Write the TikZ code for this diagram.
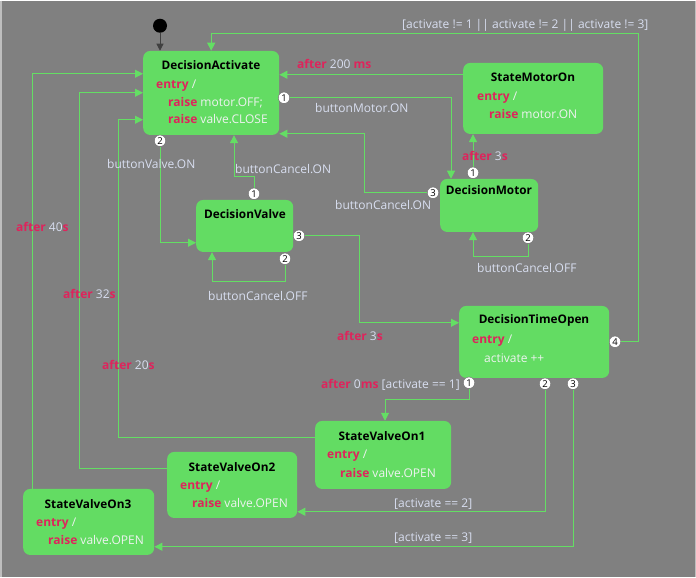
\documentclass[tikz,border=0pt]{standalone}
\usepackage{fontspec}
\setmainfont{Open Sans}
\usetikzlibrary{arrows.meta}
\definecolor{bgc}{RGB}{128,128,128}
\definecolor{stfill}{RGB}{99,220,99}
\definecolor{wire}{RGB}{100,222,100}
\definecolor{kwc}{RGB}{222,36,92}
\definecolor{lbl}{RGB}{216,222,240}
\definecolor{intxt}{RGB}{238,242,240}
\definecolor{initc}{RGB}{64,64,64}
\definecolor{edgec}{RGB}{190,190,190}
\newcommand\kw[1]{{\bfseries\color{kwc}#1}}
\pgfdeclarelayer{canvas}
\pgfdeclarelayer{wires}
\pgfsetlayers{canvas,wires,main}
\begin{document}
\begin{tikzpicture}[x=1pt,y=-1pt,
  st/.style={fill=stfill, rounded corners=7pt, anchor=north west, inner sep=0pt},
  ttl/.style={font=\fontsize{11.8}{13}\selectfont\bfseries, text=black, inner sep=0pt},
  body/.style={font=\fontsize{12}{14}\selectfont, text=intxt, anchor=west, inner sep=0pt},
  lab/.style={font=\fontsize{12}{14}\selectfont, text=lbl, anchor=west, inner sep=0pt},
  mk/.style={circle, fill=white, draw=black!60, line width=0.4pt, inner sep=0pt,
    minimum size=11.5pt, font=\fontsize{9.5}{9.5}\selectfont, text=black},
  tr/.style={draw=wire, line width=1pt, -{Triangle[length=8pt,width=8pt]}},
]
% canvas
\begin{pgfonlayer}{canvas}
\fill[bgc] (0,0) rectangle (696,576);
\draw[edgec, line width=1.5pt] (0.75,0) -- (0.75,576);
\draw[edgec, line width=1.5pt] (695.25,0) -- (695.25,576);
\end{pgfonlayer}
\useasboundingbox (0,0) rectangle (696,576);

% states
\node[st, minimum width=136pt, minimum height=84pt] (da) at (143,50) {};
\node[ttl] (da-t) at (211,64) {DecisionActivate};
\node[body] (da-b1) at (156,85) {\kw{entry} /};
\node[body] (da-b2) at (168,102) {\kw{raise} motor.OFF;};
\node[body] (da-b3) at (168,118) {\kw{raise} valve.CLOSE};

\node[st, minimum width=140pt, minimum height=71pt] (smo) at (463,62) {};
\node[ttl] (smo-t) at (533,77) {StateMotorOn};
\node[body] (smo-b1) at (477,97) {\kw{entry} /};
\node[body] (smo-b2) at (489,113) {\kw{raise} motor.ON};

\node[st, minimum width=98pt, minimum height=53pt] (dm) at (440,178) {};
\node[ttl] (dm-t) at (489,189) {DecisionMotor};

\node[st, minimum width=97pt, minimum height=52pt] (dv) at (196,199) {};
\node[ttl] (dv-t) at (245,213) {DecisionValve};

\node[st, minimum width=150pt, minimum height=72pt] (dto) at (459,305) {};
\node[ttl] (dto-t) at (534,320) {DecisionTimeOpen};
\node[body] (dto-b1) at (472,340) {\kw{entry} /};
\node[body] (dto-b2) at (484,357) {activate ++};

\node[st, minimum width=136pt, minimum height=68pt] (sv1) at (315,420) {};
\node[ttl] (sv1-t) at (382,435) {StateValveOn1};
\node[body] (sv1-b1) at (327,455) {\kw{entry} /};
\node[body] (sv1-b2) at (340,472) {\kw{raise} valve.OPEN};

\node[st, minimum width=130pt, minimum height=66pt] (sv2) at (167,451) {};
\node[ttl] (sv2-t) at (232,466) {StateValveOn2};
\node[body] (sv2-b1) at (180,486) {\kw{entry} /};
\node[body] (sv2-b2) at (192,502) {\kw{raise} valve.OPEN};

\node[st, minimum width=131pt, minimum height=66pt] (sv3) at (23,488) {};
\node[ttl] (sv3-t) at (88,503) {StateValveOn3};
\node[body] (sv3-b1) at (36,523) {\kw{entry} /};
\node[body] (sv3-b2) at (48,539) {\kw{raise} valve.OPEN};

% initial pseudo state
\node[circle, fill=black, minimum size=14pt, inner sep=0pt] (init) at (160,25) {};

% transition priority markers
\node[mk] (dam1) at (284,97) {1};
\node[mk] (dam2) at (160,140) {2};
\node[mk] (dmm1) at (473,172) {1};
\node[mk] (dmm2) at (528,237) {2};
\node[mk] (dmm3) at (433,192) {3};
\node[mk] (dvm1) at (254,193) {1};
\node[mk] (dvm2) at (285,258) {2};
\node[mk] (dvm3) at (299,235) {3};
\node[mk] (dtom1) at (469,382) {1};
\node[mk] (dtom2) at (545,383) {2};
\node[mk] (dtom3) at (573,383) {3};
\node[mk] (dtom4) at (615,341) {4};

% transitions
\begin{pgfonlayer}{wires}
\draw[initc, line width=1pt, -{Triangle[length=7pt,width=7pt]}] (init) -- (init |- da.north);
\draw[tr] (dtom4.east) -| (638,33) -| (da.north);
\draw[tr] (smo.west |- 0,74) -- (da.east |- 0,74);
\draw[tr] (dam1.east) -| (dm.north -| 451,0);
\draw[tr] (dmm3.west) -| (364,133) -- (da.east |- 0,133);
\draw[tr] (dmm1.north) -- (smo.south -| dmm1);
\draw[tr] (dmm2.south) |- (473,256) -- (dm.south -| 473,0);
\draw[tr] (dam2.south) |- (dv.west |- 0,242);
\draw[tr] (dvm1.north) |- (234,176) -- (da.south -| 234,0);
\draw[tr] (dvm2.south) |- (212,281) -- (dv.south -| 212,0);
\draw[tr] (dvm3.east) -| (359,322) -- (dto.west |- 0,322);
\draw[tr] (dtom1.south) |- (385,399) -- (sv1.north -| 385,0);
\draw[tr] (dtom2.south) |- (sv2.east |- 0,511);
\draw[tr] (dtom3.south) |- (sv3.east |- 0,546);
\draw[tr] (sv1.west |- 0,437) -| (118,119) -- (da.west |- 0,119);
\draw[tr] (sv2.west |- 0,468) -| (79,92) -- (da.west |- 0,92);
\draw[tr] (sv3.north -| 32,0) |- (da.west |- 0,73);
\end{pgfonlayer}

% transition labels
\node[lab] (l-act) at (402,25) {[activate != 1 || activate != 2 || activate != 3]};
\node[lab] (l-200) at (297,63) {\kw{after} 200 \kw{ms}};
\node[lab] (l-bmo) at (315,107) {buttonMotor.ON};
\node[lab] (l-3a) at (462,155) {\kw{after} 3\kw{s}};
\node[lab] (l-bvo) at (107,163) {buttonValve.ON};
\node[lab] (l-bco1) at (235,168) {buttonCancel.ON};
\node[lab] (l-bco2) at (335,204) {buttonCancel.ON};
\node[lab] (l-bcf2) at (477,267) {buttonCancel.OFF};
\node[lab] (l-bcf1) at (208,295) {buttonCancel.OFF};
\node[lab] (l-3b) at (337,335) {\kw{after} 3\kw{s}};
\node[lab] (l-0ms) at (321,384) {\kw{after} 0\kw{ms} [activate == 1]};
\node[lab] (l-a2) at (394,503) {[activate == 2]};
\node[lab] (l-a3) at (394,537) {[activate == 3]};
\node[lab] (l-40) at (16,226) {\kw{after} 40\kw{s}};
\node[lab] (l-32) at (63,293) {\kw{after} 32\kw{s}};
\node[lab] (l-20) at (102,364) {\kw{after} 20\kw{s}};
\end{tikzpicture}
\end{document}
